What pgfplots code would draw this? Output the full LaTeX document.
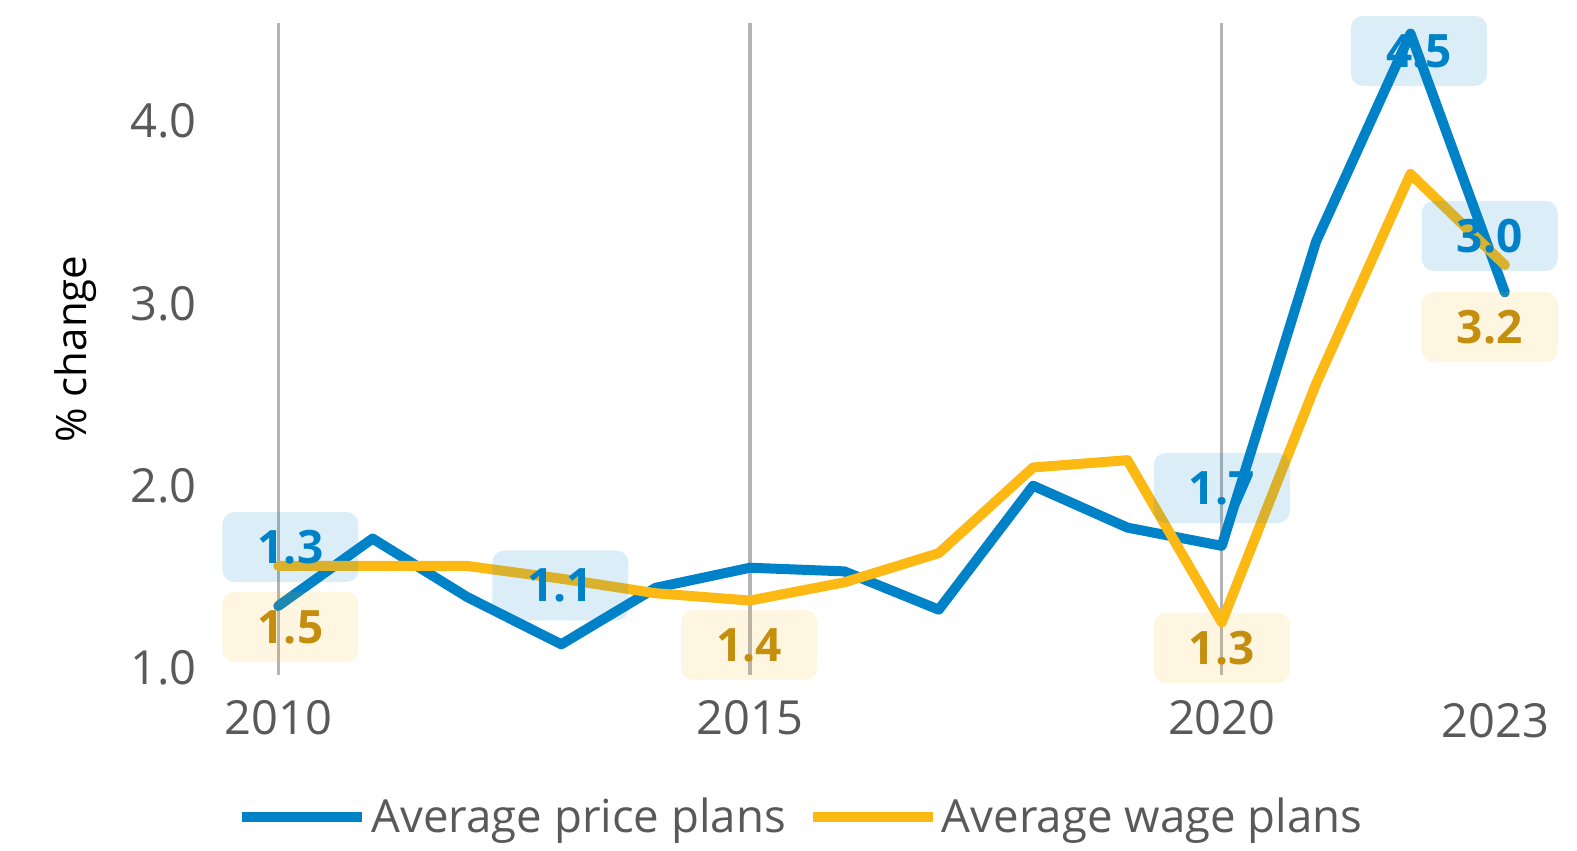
\documentclass[border=0pt]{standalone}
\usepackage{pgfplots}
\pgfplotsset{compat=1.18}
\usepackage{fontspec}
\setmainfont{Open Sans}

\definecolor{cblue}{HTML}{0082C8}
\definecolor{cgold}{HTML}{FDB913}
\definecolor{cgoldtxt}{HTML}{C48E0E}
\definecolor{tickgray}{HTML}{595959}
\definecolor{gridgray}{HTML}{B4B4B4}

\tikzset{
  lbox/.style={rounded corners=6pt, minimum width=68pt, minimum height=35pt,
    inner sep=0pt, fill opacity=0.14, text opacity=1,
    font=\bfseries\fontsize{23}{23}\selectfont},
  bluebox/.style={lbox, fill=cblue, text=cblue},
  goldbox/.style={lbox, fill=cgold, fill opacity=0.12, text=cgoldtxt},
}

\begin{document}
\begin{tikzpicture}
\begin{axis}[
  scale only axis,
  width=660.5pt, height=326pt,
  xmin=2009.5, xmax=2023.5,
  ymin=0.9616, ymax=4.538,
  clip=false,
  axis line style={draw=none},
  major tick length=0pt,
  xtick={2010,2015,2020},
  xticklabels={2010,2015,2020},
  extra x ticks={2022.9},
  extra x tick labels={2023},
  extra x tick style={grid=none, x tick label style={yshift=-1.5pt}},
  xmajorgrids,
  grid style={gridgray, line width=1.6pt},
  ytick={1,2,3,4},
  yticklabels={1.0,2.0,3.0,4.0},
  tick label style={font=\fontsize{23.5}{24}\selectfont, text=tickgray, inner sep=0pt},
  x tick label style={anchor=north, yshift=-12.5pt},
  y tick label style={anchor=east, xshift=-17pt},
  ylabel={\% change},
  ylabel style={at={(rel axis cs:-0.118,0.5)}, anchor=center,
    font=\fontsize{21}{21}\selectfont, text=black},
  legend style={at={(rel axis cs:0.4322,-0.218)}, anchor=center,
    draw=none, fill=none, legend columns=2,
    font=\fontsize{22.8}{27}\selectfont\color{tickgray},
    /tikz/every even column/.append style={column sep=9pt}},
  legend image code/.code={\draw[#1, line width=5pt, line cap=butt] (-3pt,0pt) -- (57pt,0pt);},
]

% average price plans
\addplot[cblue, line width=5pt, line join=round, line cap=round] coordinates {
  (2010,1.34) (2011,1.71) (2012,1.39) (2013,1.13) (2014,1.44)
  (2015,1.55) (2016,1.53) (2017,1.32) (2018,2.00) (2019,1.77)
  (2020,1.67) (2021,3.34) (2022,4.48) (2023,3.06)
};
\addlegendentry{Average price plans}

% average wage plans
\addplot[cgold, line width=5pt, line join=round, line cap=round] coordinates {
  (2010,1.56) (2011,1.56) (2012,1.56) (2013,1.49) (2014,1.41)
  (2015,1.37) (2016,1.47) (2017,1.63) (2018,2.10) (2019,2.14)
  (2020,1.25) (2021,2.56) (2022,3.71) (2023,3.21)
};
\addlegendentry{Average wage plans}

% value labels
\node[bluebox] at (axis cs:2010.13,1.664) {1.3};
\node[goldbox] at (axis cs:2010.13,1.225) {1.5};
\node[bluebox] at (axis cs:2012.99,1.453) {1.1};
\node[goldbox] at (axis cs:2014.99,1.126) {1.4};
\node[bluebox] at (axis cs:2020.0,1.987) {1.7};
\node[goldbox] at (axis cs:2020.0,1.11) {1.3};
\node[bluebox] at (axis cs:2022.09,4.385) {4.5};
\node[bluebox] at (axis cs:2022.84,3.37) {3.0};
\node[goldbox] at (axis cs:2022.84,2.87) {3.2};

\coordinate (bl) at (rel axis cs:-0.1749,-0.2699);
\coordinate (tr) at (rel axis cs:1.0189,1.0353);
\end{axis}
\pgfresetboundingbox
\path (bl) rectangle (tr);
\end{tikzpicture}
\end{document}
